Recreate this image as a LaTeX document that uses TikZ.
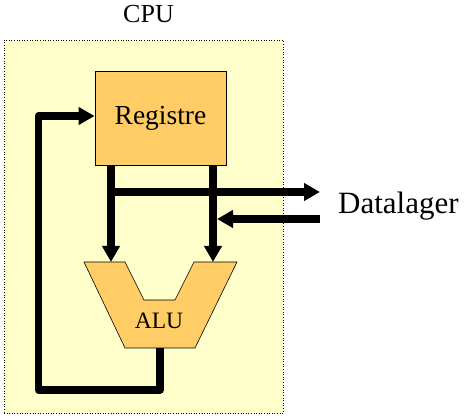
\documentclass[tikz,border=0pt]{standalone}
\usepackage{fontspec}
\setmainfont{Liberation Serif}
\usetikzlibrary{arrows.meta}
\definecolor{fondcpu}{HTML}{FFFFCC}
\definecolor{fondunite}{HTML}{FFCC66}
\begin{document}
\begin{tikzpicture}[x=1pt,y=-1pt]
% Styles
\tikzstyle{fleche}=[line width=8pt,-{Triangle[length=16pt,width=17pt]}]
\tikzstyle{retour}=[line width=7.5pt,line join=round,-{Triangle[length=16pt,width=17pt]}]
\tikzstyle{cadre}=[draw,dotted,line width=0.6pt,fill=fondcpu,inner sep=0pt]
\tikzstyle{unite}=[draw,line width=0.8pt,fill=fondunite,inner sep=0pt]
\tikzstyle{etiquette}=[anchor=base,inner sep=0pt]
% Dimensions
\def\BusGauche{111}
\def\BusDroit{213}
\def\HautALU{262}
\useasboundingbox (0,0) rectangle (466,419);
% Noeuds
\node[cadre,minimum width=279pt,minimum height=373pt] (cpu) at (143.5,226.5) {};
\node[etiquette,font=\fontsize{26}{30}\selectfont] (titre) at (148.5,23) {CPU};
\node[unite,minimum width=131pt,minimum height=94pt,font=\fontsize{27.5}{32}\selectfont] (reg) at (160.5,118) {Registre};
\draw[unite,line width=0.6pt] (84,\HautALU) -- (125,\HautALU) -- (144,300) -- (175,300) -- (194,\HautALU)
  -- (237,\HautALU) -- (195,348) -- (125,348) -- cycle;
\node[etiquette,font=\fontsize{23.5}{28}\selectfont] (alu) at (159,329) {ALU};
\node[anchor=base west,inner sep=0pt,font=\fontsize{31}{36}\selectfont] (memoire) at (338,214) {Datalager};
\coordinate (aluA) at (\BusGauche,\HautALU);
\coordinate (aluB) at (\BusDroit,\HautALU);
\coordinate (aluS) at (160,348);
\coordinate (depart) at (\BusGauche,192);
\coordinate (sortie) at (320,192);
\coordinate (entree) at (320,219);
\coordinate (arrivee) at (217,219);
\coordinate (coinA) at (160,390);
\coordinate (coinB) at (38.5,390);
\coordinate (coinC) at (38.5,116);
% Arcs
\draw[fleche] (reg.south -| aluA) -- (aluA);
\draw[fleche] (reg.south -| aluB) -- (aluB);
\draw[fleche] ([xshift=-4pt]depart) -- (sortie);
\draw[fleche] (entree) -- (arrivee);
\draw[retour] (aluS) -- (coinA) -- (coinB) -- (coinC) -- (reg.west |- coinC);
\end{tikzpicture}
\end{document}
